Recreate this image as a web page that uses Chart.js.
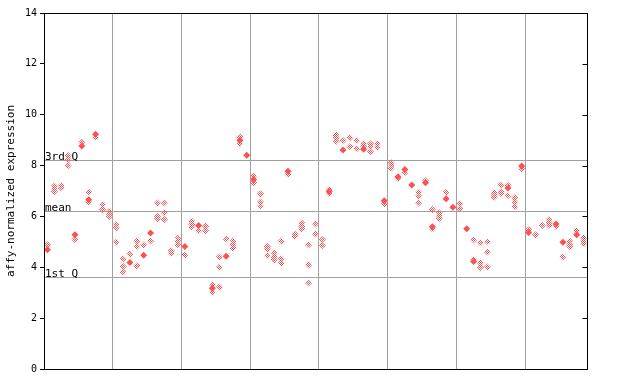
<!DOCTYPE html>
<html><head><meta charset="utf-8">
<script src="https://cdn.jsdelivr.net/npm/chart.js@4/dist/chart.umd.min.js"></script>
<style>html,body{margin:0;padding:0;background:#fff}canvas{display:block}</style>
</head><body>
<canvas id="c" width="640" height="384"></canvas>
<script>
const yTicks = [0, 2, 4, 6, 8, 10, 12, 14];
const groupBounds = [9.5, 19.5, 29.5, 39.5, 49.5, 59.5, 69.5];
const refValues = [8.21, 6.21, 3.61];
const refLabels = ['3rd Q', 'mean', '1st Q'];
const yTitle = 'affy-normalized expression';

// one entry per sample (index 0..78): values drawn as hatched diamonds
const hollowValues = [
  [4.89], [7.2, 7.09, 6.98], [7.22, 7.12], [8.4, 8.24, 8.0], [5.09], [8.92], [6.95, 6.56], [9.1], [6.47, 6.27], [6.2, 6.1, 6.0],
  [5.68, 5.55, 4.98], [4.33, 4.03, 3.81], [4.52], [5.02, 4.82, 4.06], [4.88], [5.03], [6.53, 6.0, 5.9], [6.53, 6.14, 5.88], [4.65, 4.55], [5.15, 5.02, 4.89],
  [4.48], [5.81, 5.69, 5.57], [5.44], [5.61, 5.44], [3.31, 3.01], [4.4, 4.0, 3.22], [5.11], [5.02, 4.9, 4.76], [9.12, 8.87], [],
  [7.6, 7.32], [6.89, 6.57, 6.4], [4.82, 4.72, 4.46], [4.56, 4.4, 4.3], [5.02, 4.33, 4.17], [7.66], [5.31, 5.22], [5.74, 5.6, 5.51], [4.88, 4.09, 3.38], [5.7, 5.31],
  [5.09, 4.86], [7.06, 6.9], [9.19, 9.08, 8.96], [8.99], [9.09, 8.74], [8.99, 8.66], [8.86, 8.77], [8.86, 8.75, 8.54], [8.86, 8.72], [6.49],
  [8.11, 8.0, 7.89], [7.5], [7.72], [], [6.95, 6.8, 6.53], [7.4], [6.27, 5.52], [6.14, 6.03, 5.93], [6.95], [],
  [6.5, 6.3], [], [5.07, 4.3], [4.96, 4.17, 3.99], [5.0, 4.6, 4.01], [6.93, 6.84, 6.75], [7.24, 6.97, 6.9], [7.23, 6.81], [6.73, 6.56, 6.38], [7.87],
  [5.48], [5.28], [5.64], [5.88, 5.75, 5.64], [5.61], [4.4], [5.02, 4.9, 4.82], [5.44], [5.15, 5.02, 4.93]
];
// values drawn as solid diamonds
const filledValues = [
  [4.69], [], [], [], [5.28], [8.77], [6.66], [9.23], [], [],
  [], [], [4.19], [], [4.47], [5.35], [], [], [], [],
  [4.82], [], [5.64], [], [3.18], [], [4.43], [], [9.0], [8.41],
  [7.45], [], [], [], [], [7.78], [], [], [], [],
  [], [6.98], [], [8.61], [], [], [8.64], [], [], [6.62],
  [], [7.56], [7.85], [7.24], [], [7.32], [5.59], [], [6.7], [6.36],
  [], [5.52], [4.23], [], [], [], [], [7.12], [], [7.98],
  [5.37], [], [], [], [5.7], [4.98], [], [5.28], []
];

const RED = '#ff5050';
const pc = document.createElement('canvas');
pc.width = 2; pc.height = 2;
const pctx = pc.getContext('2d');
pctx.fillStyle = RED;
pctx.fillRect(0, 0, 1, 1);
pctx.fillRect(1, 1, 1, 1);
const hatch = document.getElementById('c').getContext('2d').createPattern(pc, 'repeat');

function toPoints(arr) {
  const out = [];
  arr.forEach((vals, i) => vals.forEach(v => out.push({ x: i, y: v })));
  return out;
}

const framePlugin = {
  id: 'frame',
  beforeDatasetsDraw(chart) {
    const { ctx, chartArea: a } = chart;
    const ys = chart.scales.y;
    ctx.save();
    ctx.strokeStyle = '#a0a0a0';
    ctx.lineWidth = 1;
    ctx.font = '11px "DejaVu Sans Mono", monospace';
    ctx.fillStyle = '#000';
    ctx.textBaseline = 'alphabetic';
    ctx.textAlign = 'left';
    refValues.forEach((v, i) => {
      const p = Math.round(ys.getPixelForValue(v)) + 0.5;
      ctx.beginPath();
      ctx.moveTo(a.left, p);
      ctx.lineTo(a.right, p);
      ctx.stroke();
      ctx.fillText(refLabels[i], a.left + 1, p - 1);
    });
    ctx.restore();
  },
  afterDraw(chart) {
    const { ctx, chartArea: a } = chart;
    const ys = chart.scales.y;
    ctx.save();
    ctx.strokeStyle = '#000';
    ctx.lineWidth = 1;
    const L = Math.round(a.left) + 0.5, R = Math.round(a.right) + 0.5;
    const T = Math.round(a.top) + 0.5, B = Math.round(a.bottom) + 0.5;
    ctx.strokeRect(L, T, R - L, B - T);
    yTicks.forEach(v => {
      const p = Math.round(ys.getPixelForValue(v)) + 0.5;
      ctx.beginPath();
      ctx.moveTo(R - 5, p);
      ctx.lineTo(R, p);
      ctx.stroke();
    });
    ctx.translate(11, (a.top + a.bottom) / 2);
    ctx.rotate(-Math.PI / 2);
    ctx.font = '11px "DejaVu Sans Mono", monospace';
    ctx.fillStyle = '#000';
    ctx.textAlign = 'center';
    ctx.textBaseline = 'middle';
    ctx.fillText(yTitle, 0, 0);
    ctx.restore();
  }
};

new Chart(document.getElementById('c'), {
  type: 'scatter',
  data: {
    datasets: [
      { data: toPoints(hollowValues), pointStyle: 'rectRot', pointRadius: 3.5, pointBorderWidth: 0, backgroundColor: hatch, borderColor: RED },
      { data: toPoints(filledValues), pointStyle: 'rectRot', pointRadius: 3.5, pointBorderWidth: 0, backgroundColor: RED, borderColor: RED }
    ]
  },
  options: {
    responsive: false,
    animation: false,
    layout: { padding: { left: 0, right: 53, top: 13, bottom: 15 } },
    plugins: { legend: { display: false }, tooltip: { enabled: false } },
    scales: {
      x: {
        type: 'linear', min: -0.5, max: 78.5,
        afterBuildTicks: s => { s.ticks = groupBounds.map(v => ({ value: v })); },
        afterFit: s => { s.height = 0; },
        ticks: { display: false },
        grid: { color: '#a0a0a0', lineWidth: 1, drawTicks: false },
        border: { display: false }
      },
      y: {
        min: 0, max: 14,
        afterBuildTicks: s => { s.ticks = yTicks.map(v => ({ value: v })); },
        afterFit: s => { s.width = 44; },
        ticks: { color: '#000', font: { family: '"DejaVu Sans Mono", monospace', size: 10 }, padding: 3 },
        grid: { drawOnChartArea: false, drawTicks: true, tickLength: 4, color: '#000' },
        border: { display: false }
      }
    }
  },
  plugins: [framePlugin]
});
</script>
</body></html>
